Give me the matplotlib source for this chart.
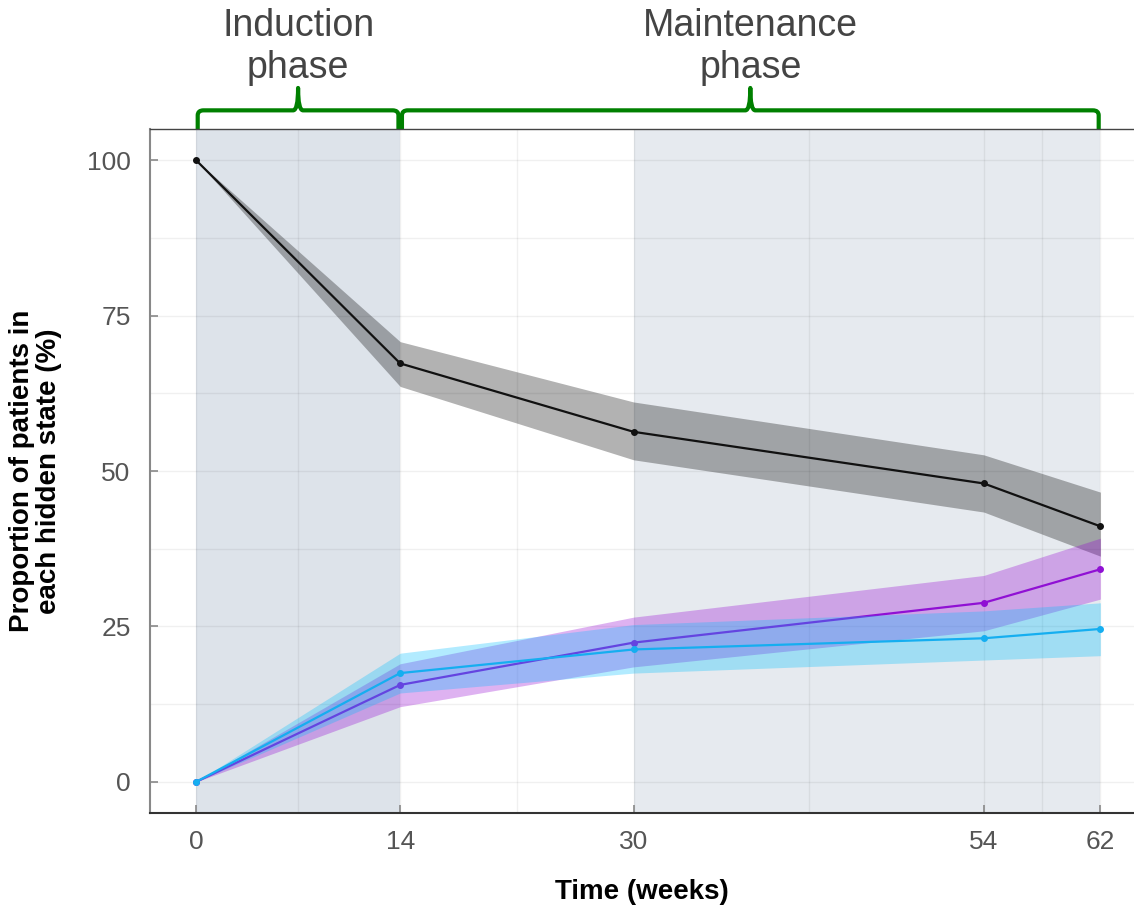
import matplotlib
matplotlib.use('Agg')
import matplotlib.pyplot as plt
from matplotlib.path import Path
from matplotlib.patches import PathPatch

plt.rcParams['font.family'] = ['Liberation Sans', 'DejaVu Sans']

# data
weeks = [0, 14, 30, 54, 62]

black_mean = [100, 67.3, 56.3, 48.0, 41.1]
black_lo = [100, 63.6, 51.8, 43.4, 36.3]
black_hi = [100, 70.8, 61.1, 52.6, 46.6]

purple_mean = [0, 15.6, 22.4, 28.8, 34.2]
purple_lo = [0, 12.1, 18.5, 24.3, 29.4]
purple_hi = [0, 19.0, 26.5, 33.2, 39.2]

blue_mean = [0, 17.5, 21.3, 23.1, 24.6]
blue_lo = [0, 14.3, 17.5, 19.6, 20.3]
blue_hi = [0, 20.7, 25.3, 27.5, 28.8]

phase_names = ['Induction\nphase', 'Maintenance\nphase']
phase_bounds = [(0, 14), (14, 62)]

x_minor = [7, 22, 42, 58]
y_ticks = [0, 25, 50, 75, 100]
y_minor = [12.5, 37.5, 62.5, 87.5]


def draw_brace(ax, x0, x1, y_base, y_line, y_tip, rx, ry, tipw):
    mid = (x0 + x1) / 2
    verts = [(x0, y_base), (x0, y_line - ry),
             (x0, y_line), (x0 + rx, y_line),
             (mid - tipw, y_line),
             (mid, y_line), (mid, y_tip),
             (mid, y_line), (mid + tipw, y_line),
             (x1 - rx, y_line),
             (x1, y_line), (x1, y_line - ry),
             (x1, y_base)]
    codes = [Path.MOVETO, Path.LINETO,
             Path.CURVE3, Path.CURVE3,
             Path.LINETO,
             Path.CURVE3, Path.CURVE3,
             Path.CURVE3, Path.CURVE3,
             Path.LINETO,
             Path.CURVE3, Path.CURVE3,
             Path.LINETO]
    patch = PathPatch(Path(verts, codes), facecolor='none', edgecolor='#008000',
                      lw=3, clip_on=False, capstyle='butt', joinstyle='round')
    ax.add_patch(patch)


fig = plt.figure(figsize=(11.34, 9.08), dpi=100)
ax = fig.add_axes([150 / 1134, 1 - 813 / 908, (1134 - 150) / 1134, (813 - 129) / 908])
ax.set_xlim(-3.15, 64.3)
ax.set_ylim(-5, 105)

# phase shading
ax.axvspan(0, 14, color='#dde3ea', lw=0, zorder=0)
ax.axvspan(30, 62, color='#e6eaef', lw=0, zorder=0)

# bands and lines
ax.fill_between(weeks, black_lo, black_hi, color='black', alpha=0.3, lw=0, zorder=1)
ax.plot(weeks, black_mean, color='#111111', lw=1.6, marker='o', ms=4, zorder=3)
ax.fill_between(weeks, purple_lo, purple_hi, color='#9400d3', alpha=0.3, lw=0, zorder=3.1)
ax.plot(weeks, purple_mean, color='#9010d4', lw=1.6, marker='o', ms=4, zorder=3.2)
ax.fill_between(weeks, blue_lo, blue_hi, color='#00bfff', alpha=0.3, lw=0, zorder=3.3)
ax.plot(weeks, blue_mean, color='#15aef0', lw=1.6, marker='o', ms=4, zorder=3.4)

# grid
ax.set_xticks(weeks)
ax.set_xticks(x_minor, minor=True)
ax.set_yticks(y_ticks)
ax.set_yticks(y_minor, minor=True)
ax.grid(which='both', color='black', alpha=0.06, lw=1)
ax.set_axisbelow('line')

ax.tick_params(which='major', direction='in', length=6, width=1.2, color='#888888',
               labelsize=19, labelcolor='#555555')
ax.tick_params(axis='x', which='major', pad=12)
ax.tick_params(axis='y', which='major', pad=14)
ax.tick_params(which='minor', length=0)

ax.spines['right'].set_visible(False)
ax.spines['left'].set_color('#888888')
ax.spines['left'].set_linewidth(1.5)
ax.spines['bottom'].set_color('#333333')
ax.spines['bottom'].set_linewidth(1.5)
ax.spines['top'].set_color('#444444')
ax.spines['top'].set_linewidth(1)

ax.set_xlabel('Time (weeks)', fontsize=20, fontweight='bold', labelpad=18)
ax.set_ylabel('Proportion of patients in\neach hidden state (%)', fontsize=20,
              fontweight='bold', labelpad=18, linespacing=1.05)

# phase braces and titles
for name, (a, b) in zip(phase_names, phase_bounds):
    draw_brace(ax, a + 0.12, b - 0.12, 105, 108.0, 111.6, 0.4, 0.8, 0.34)
    ax.text((a + b) / 2, 118.2, name, ha='center', va='center', fontsize=27,
            color='#444444', clip_on=False)

fig.savefig('out.png', dpi=100)
